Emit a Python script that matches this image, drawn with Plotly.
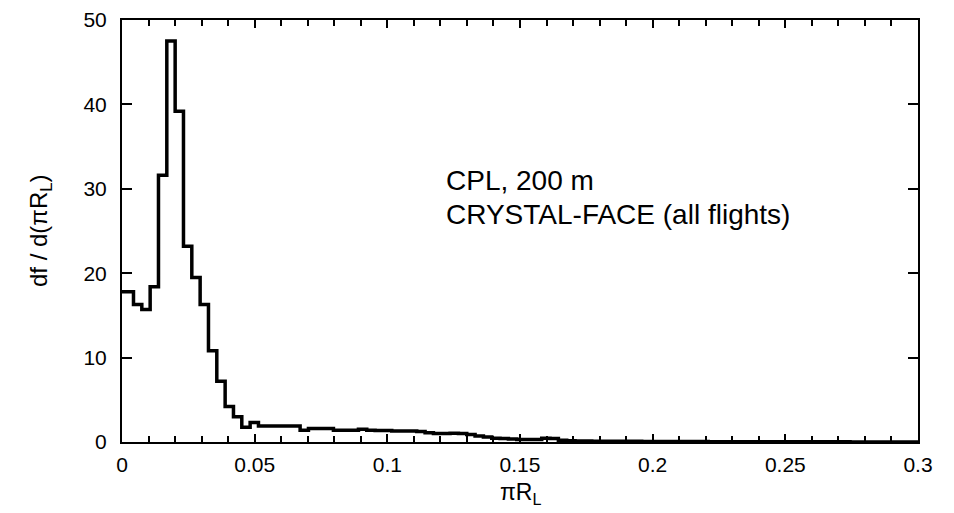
import numpy as np
import plotly.graph_objects as go

# Histogram of pi*R_L (bin width ~0.00314), CPL 200 m data
bin_start = -0.00195
bin_width = 0.00314
density = [
    17.8, 17.8, 16.3, 15.7, 18.4, 31.6, 47.5, 39.2, 23.2, 19.5,
    16.3, 10.8, 7.2, 4.2, 3.0, 1.75, 2.3, 1.9, 1.9, 1.9,
    1.9, 1.9, 1.4, 1.6, 1.6, 1.6, 1.4, 1.4, 1.4, 1.5,
    1.4, 1.35, 1.35, 1.3, 1.3, 1.3, 1.25, 1.1, 1.0, 1.0,
    1.05, 1.0, 0.9, 0.7, 0.6, 0.45, 0.4, 0.35, 0.3, 0.3,
    0.3, 0.45, 0.4, 0.2, 0.15, 0.12, 0.12, 0.1, 0.1, 0.1,
    0.08, 0.08, 0.08, 0.07, 0.07, 0.06, 0.06, 0.05, 0.05, 0.05,
    0.05, 0.04, 0.04, 0.04, 0.04, 0.03, 0.03, 0.03, 0.03, 0.03,
    0.02, 0.02, 0.02, 0.02, 0.02, 0.02, 0.02, 0.02, 0.01, 0.01,
    0.01, 0.01, 0.01, 0.01, 0.01, 0.01, 0.01,
]

x_ticks = [0, 0.05, 0.1, 0.15, 0.2, 0.25, 0.3]
x_tick_text = ["0", "0.05", "0.1", "0.15", "0.2", "0.25", "0.3"]
y_ticks = [0, 10, 20, 30, 40, 50]

edges = bin_start + bin_width * np.arange(len(density) + 1)
x_step = list(edges)
y_step = density + [density[-1]]

font_family = "Liberation Sans, Arial, sans-serif"

fig = go.Figure()
fig.add_trace(go.Scatter(
    x=x_step, y=y_step, mode="lines",
    line=dict(color="black", width=3.5, shape="hv"),
    hoverinfo="skip", showlegend=False,
))

axis_common = dict(
    showline=True, linecolor="black", linewidth=2, mirror="allticks",
    ticks="inside", tickcolor="black", showgrid=False, zeroline=False,
    tickfont=dict(family=font_family, size=21, color="black"),
)

fig.update_xaxes(
    range=[0, 0.3], tickmode="array", tickvals=x_ticks, ticktext=x_tick_text,
    ticklen=8, tickwidth=1.5, ticklabelstandoff=3,
    minor=dict(dtick=0.01, ticks="inside", ticklen=6, tickwidth=1.5, tickcolor="black"),
    **axis_common,
)
fig.update_yaxes(
    range=[0, 50], tickmode="array", tickvals=y_ticks,
    ticklen=10, tickwidth=1.5, ticklabelstandoff=9,
    **axis_common,
)

fig.add_annotation(
    x=0.1215, y=31, xref="x", yref="y", text="CPL, 200 m",
    showarrow=False, xanchor="left", yanchor="middle",
    font=dict(family=font_family, size=28, color="black"),
)
fig.add_annotation(
    x=0.1215, y=27, xref="x", yref="y", text="CRYSTAL-FACE (all flights)",
    showarrow=False, xanchor="left", yanchor="middle",
    font=dict(family=font_family, size=28, color="black"),
)
fig.add_annotation(
    x=-0.103, y=0.5, xref="paper", yref="paper", text="df / d(πR<sub>L</sub>)",
    showarrow=False, textangle=-90, xanchor="center", yanchor="middle",
    font=dict(family=font_family, size=24, color="black"),
)
fig.add_annotation(
    x=0.5, y=-0.122, xref="paper", yref="paper", text="πR<sub>L</sub>",
    showarrow=False, xanchor="center", yanchor="middle",
    font=dict(family=font_family, size=23, color="black"),
)

fig.update_layout(
    width=954, height=513,
    margin=dict(l=122, r=36, t=20, b=71, autoexpand=False),
    plot_bgcolor="white", paper_bgcolor="white",
)

fig.write_html("out.html")
